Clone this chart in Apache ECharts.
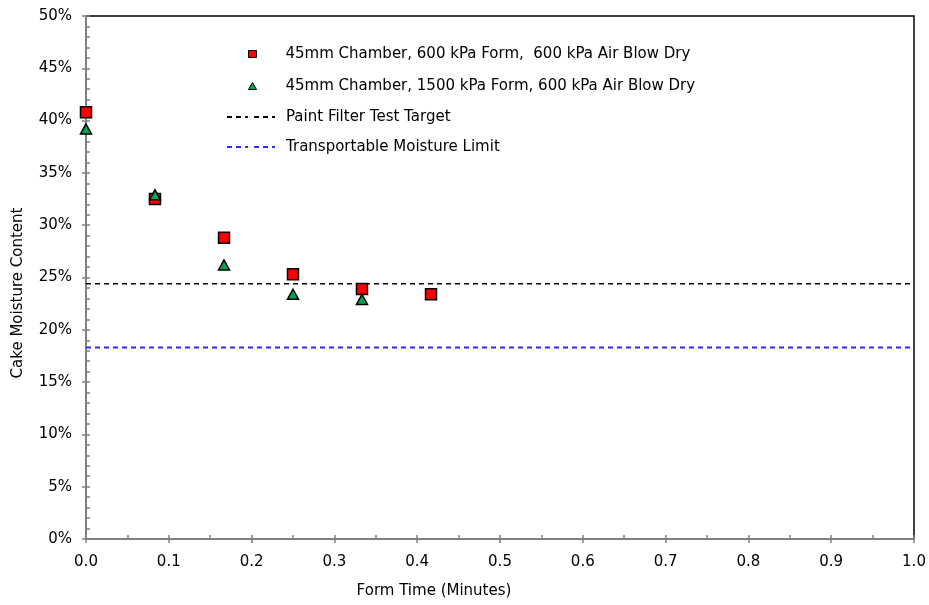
<!DOCTYPE html>
<html>
<head>
<meta charset="utf-8">
<script src="https://cdn.jsdelivr.net/npm/echarts@6/dist/echarts.min.js"></script>
<style>html,body{margin:0;padding:0;background:#fff;}#c{width:929px;height:605px;}</style>
</head>
<body>
<div id="c"></div>
<script>
const formTime = [0, 0.0833, 0.1667, 0.25, 0.3333, 0.4167];
const series600 = [40.8, 32.5, 28.8, 25.3, 23.9, 23.4];
const formTime1500 = [0, 0.0833, 0.1667, 0.25, 0.3333];
const series1500 = [39.2, 32.9, 26.2, 23.4, 22.9];
const paintFilterTarget = 24.4;
const transportableLimit = 18.3;
const lineX = [0, 1];
const names = [
  '45mm Chamber, 600 kPa Form,  600 kPa Air Blow Dry',
  '45mm Chamber, 1500 kPa Form, 600 kPa Air Blow Dry',
  'Paint Filter Test Target',
  'Transportable Moisture Limit'
];
const xTitle = 'Form Time (Minutes)';
const yTitle = 'Cake Moisture Content';

const font = 'DejaVu Sans, Liberation Sans, sans-serif';
const fs = 15;
const gray = '#808080';
const hide = { color: 'rgba(0,0,0,0)', borderColor: 'rgba(0,0,0,0)', borderWidth: 0 };
const chart = echarts.init(document.getElementById('c'));
chart.setOption({
  animation: false,
  textStyle: { fontFamily: font },
  grid: { left: 86, top: 16, right: 15, bottom: 66, show: true, borderColor: '#000', borderWidth: 1.5 },
  legend: [
    {
      orient: 'vertical', left: 248, top: 46, padding: 0,
      itemWidth: 8, itemHeight: 7, itemGap: 16,
      textStyle: { fontFamily: font, fontSize: fs, lineHeight: 16, color: '#000', padding: [0, 0, 0, 24] },
      data: [
        { name: names[0], icon: 'rect', itemStyle: { color: '#ff0000', borderColor: '#000', borderWidth: 1, opacity: 1 } },
        { name: names[1], icon: 'triangle', itemStyle: { color: '#00a651', borderColor: '#000', borderWidth: 1, opacity: 1 } }
      ]
    },
    {
      orient: 'vertical', left: 226, top: 109, padding: 0,
      itemWidth: 48, itemHeight: 8, itemGap: 14,
      textStyle: { fontFamily: font, fontSize: fs, lineHeight: 16, color: '#000', padding: [0, 0, 0, 6] },
      data: [
        { name: names[2], itemStyle: hide },
        { name: names[3], itemStyle: hide }
      ]
    }
  ],
  graphic: [
    { type: 'text', x: 434, y: 591, style: { text: xTitle, font: fs + 'px ' + font, fill: '#000', align: 'center', verticalAlign: 'middle' } },
    { type: 'text', x: 18, y: 293, rotation: Math.PI / 2, style: { text: yTitle, font: fs + 'px ' + font, fill: '#000', align: 'center', verticalAlign: 'middle' } }
  ],
  xAxis: [
    {
      type: 'value', min: 0, max: 1, interval: 0.1,
      axisLine: { lineStyle: { color: gray, width: 2 } },
      axisTick: { show: true, length: 4, lineStyle: { color: gray, width: 1.5 } },
      splitLine: { show: false },
      axisLabel: { fontSize: fs, color: '#000', margin: 16, formatter: v => v.toFixed(1) }
    },
    {
      type: 'value', min: 0, max: 1, interval: 0.05, position: 'bottom',
      axisLine: { show: false },
      axisTick: { show: true, inside: true, length: 4, lineStyle: { color: gray, width: 1.5 } },
      splitLine: { show: false }, axisLabel: { show: false }
    }
  ],
  yAxis: [
    {
      type: 'value', min: 0, max: 50, interval: 5,
      axisLine: { lineStyle: { color: gray, width: 2 } },
      axisTick: { show: true, length: 4, lineStyle: { color: gray, width: 1.5 } },
      splitLine: { show: false },
      axisLabel: { fontSize: fs, color: '#000', margin: 14, formatter: '{value}%' }
    },
    {
      type: 'value', min: 0, max: 50, interval: 1, position: 'left',
      axisLine: { show: false },
      axisTick: { show: true, inside: true, length: 4, lineStyle: { color: gray, width: 1.5 } },
      splitLine: { show: false }, axisLabel: { show: false }
    }
  ],
  series: [
    {
      name: names[0], type: 'scatter', symbol: 'rect', symbolSize: 11,
      itemStyle: { color: '#ff0000', borderColor: '#000', borderWidth: 1.5, opacity: 1 },
      data: formTime.map((x, i) => [x, series600[i]]), z: 3
    },
    {
      name: names[1], type: 'scatter', symbol: 'triangle', symbolSize: [11, 10],
      itemStyle: { color: '#00a651', borderColor: '#000', borderWidth: 1.5, opacity: 1 },
      data: formTime1500.map((x, i) => [x, series1500[i]]), z: 4
    },
    {
      name: names[2], type: 'line', showSymbol: false,
      lineStyle: { color: '#000', width: 1.5, type: [5, 4] },
      itemStyle: { color: '#000' },
      data: lineX.map(x => [x, paintFilterTarget]), z: 2
    },
    {
      name: names[3], type: 'line', showSymbol: false,
      lineStyle: { color: '#2a2aff', width: 2, type: [5, 4] },
      itemStyle: { color: '#2a2aff' },
      data: lineX.map(x => [x, transportableLimit]), z: 2
    }
  ]
});
</script>
</body>
</html>
